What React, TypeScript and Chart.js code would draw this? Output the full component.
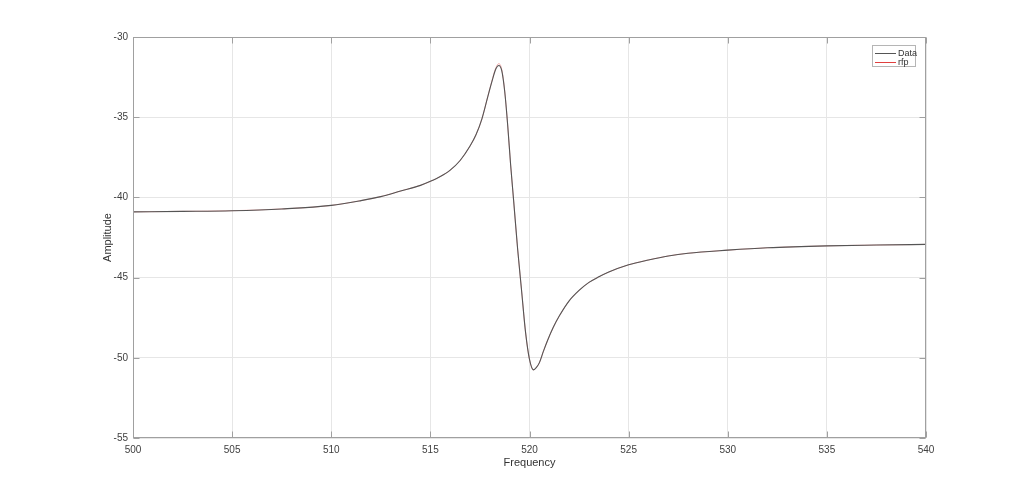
import React, { useEffect, useRef } from "react";
import { Chart, registerables } from "chart.js";

Chart.register(...registerables);

const freq = [
  500, 502.5, 505, 507.5, 510, 511.5, 512.5, 513.5, 514.5, 515, 515.5, 516, 516.5, 517,
  517.3, 517.6, 517.9, 518.1, 518.3, 518.45, 518.6, 518.75, 518.9, 519.05, 519.2, 519.4,
  519.6, 519.8, 520.0, 520.2, 520.35, 520.5, 520.7, 520.9, 521.2, 521.5, 522, 522.5, 523,
  523.5, 524, 525, 526, 527, 528, 530, 532, 535, 537.5, 540,
];

const dataAmp = [
  -40.9, -40.87, -40.83, -40.72, -40.5, -40.2, -39.95, -39.6, -39.25, -39.0, -38.7, -38.3,
  -37.7, -36.8, -36.1, -35.1, -33.7, -32.8, -32.0, -31.78, -32.1, -33.4, -35.5, -38.0,
  -40.2, -43.2, -45.8, -48.4, -50.1, -50.75, -50.6, -50.3, -49.6, -48.95, -48.1, -47.4,
  -46.45, -45.8, -45.3, -44.95, -44.65, -44.2, -43.9, -43.65, -43.48, -43.29, -43.14,
  -43.02, -42.97, -42.93,
];

const rfpAmp = [
  -40.9, -40.87, -40.83, -40.72, -40.5, -40.2, -39.95, -39.6, -39.25, -39.0, -38.7, -38.3,
  -37.7, -36.8, -36.1, -35.1, -33.7, -32.75, -31.93, -31.66, -32.02, -33.38, -35.5, -38.0,
  -40.2, -43.2, -45.8, -48.4, -50.1, -50.75, -50.6, -50.3, -49.6, -48.95, -48.1, -47.4,
  -46.45, -45.8, -45.3, -44.95, -44.65, -44.2, -43.9, -43.65, -43.48, -43.29, -43.14,
  -43.02, -42.97, -42.93,
];

const seriesNames = ["Data", "rfp"];
const xTitle = "Frequency";
const yTitle = "Amplitude";

const FONT = "'Liberation Sans', Arial, sans-serif";
const BOX = "#a0a0a0";
const DATA_COLOR = "#555555";
const RFP_COLOR = "#e0403f";

const framePlugin = {
  id: "frame",
  afterDraw(chart: any) {
    const { ctx, chartArea: a } = chart;
    const xs = chart.scales.x;
    const ys = chart.scales.y;
    ctx.save();
    ctx.strokeStyle = BOX;
    ctx.lineWidth = 1;
    const L = Math.round(a.left) + 0.5;
    const R = Math.round(a.right) - 0.5;
    const T = Math.round(a.top) + 0.5;
    const B = Math.round(a.bottom) - 0.5;
    ctx.strokeRect(L, T, R - L, B - T);
    const tl = 6;
    ctx.beginPath();
    xs.ticks.forEach((t: any) => {
      const px = Math.round(xs.getPixelForValue(t.value)) + 0.5;
      ctx.moveTo(px, B);
      ctx.lineTo(px, B - tl);
      ctx.moveTo(px, T);
      ctx.lineTo(px, T + tl);
    });
    ys.ticks.forEach((t: any) => {
      const py = Math.round(ys.getPixelForValue(t.value)) + 0.5;
      ctx.moveTo(L, py);
      ctx.lineTo(L + tl, py);
      ctx.moveTo(R, py);
      ctx.lineTo(R - tl, py);
    });
    ctx.stroke();

    // axis titles
    ctx.fillStyle = "#333";
    ctx.font = `11px ${FONT}`;
    ctx.textAlign = "center";
    ctx.textBaseline = "middle";
    ctx.fillText(xTitle, (a.left + a.right) / 2, 463);
    ctx.save();
    ctx.translate(108, (a.top + a.bottom) / 2);
    ctx.rotate(-Math.PI / 2);
    ctx.fillText(yTitle, 0, 0);
    ctx.restore();

    // legend
    const lx = 872.5, ly = 45.5, lw = 43, lh = 21;
    ctx.fillStyle = "#ffffff";
    ctx.fillRect(lx, ly, lw, lh);
    ctx.strokeStyle = "#b5b5b5";
    ctx.strokeRect(lx, ly, lw, lh);
    const colors = [DATA_COLOR, RFP_COLOR];
    const rows = [53, 62];
    ctx.font = `9px ${FONT}`;
    ctx.textAlign = "left";
    seriesNames.forEach((n, i) => {
      ctx.strokeStyle = colors[i];
      ctx.beginPath();
      ctx.moveTo(875, rows[i] + 0.5);
      ctx.lineTo(896, rows[i] + 0.5);
      ctx.stroke();
      ctx.fillStyle = "#333";
      ctx.fillText(n, 898, rows[i] + 0.5);
    });
    ctx.restore();
  },
};

export default function App() {
  const ref = useRef<HTMLCanvasElement>(null);
  useEffect(() => {
    if (!ref.current) return;
    const chart = new Chart(ref.current, {
      type: "line",
      data: {
        datasets: [
          {
            label: seriesNames[0],
            data: freq.map((f, i) => ({ x: f, y: dataAmp[i] })),
            borderColor: DATA_COLOR,
            borderWidth: 1.1,
            pointRadius: 0,
            cubicInterpolationMode: "monotone",
            fill: false,
            order: 1,
          },
          {
            label: seriesNames[1],
            data: freq.map((f, i) => ({ x: f, y: rfpAmp[i] })),
            borderColor: RFP_COLOR,
            borderWidth: 0.4,
            pointRadius: 0,
            cubicInterpolationMode: "monotone",
            fill: false,
            order: 2,
          },
        ],
      },
      options: {
        animation: false,
        responsive: false,
        devicePixelRatio: 1,
        layout: { padding: { top: 37, right: 98, left: 0, bottom: 0 } },
        plugins: { legend: { display: false }, tooltip: { enabled: false } },
        scales: {
          x: {
            type: "linear",
            min: 500,
            max: 540,
            afterFit: (s: any) => {
              s.height = 56;
            },
            ticks: {
              stepSize: 5,
              padding: 6,
              maxRotation: 0,
              color: "#404040",
              font: { family: FONT, size: 10 },
            },
            grid: { color: "#e6e6e6", drawTicks: false },
            border: { display: false },
          },
          y: {
            type: "linear",
            min: -55,
            max: -30,
            afterFit: (s: any) => {
              s.width = 133;
            },
            ticks: {
              stepSize: 5,
              padding: 5,
              color: "#404040",
              font: { family: FONT, size: 10 },
            },
            grid: { color: "#e6e6e6", drawTicks: false },
            border: { display: false },
          },
        },
      },
      plugins: [framePlugin],
    });
    return () => chart.destroy();
  }, []);
  return (
    <div style={{ position: "fixed", left: 0, top: 0, width: 1024, height: 494, background: "#fff" }}>
      <canvas ref={ref} width={1024} height={494} style={{ display: "block" }} />
    </div>
  );
}
